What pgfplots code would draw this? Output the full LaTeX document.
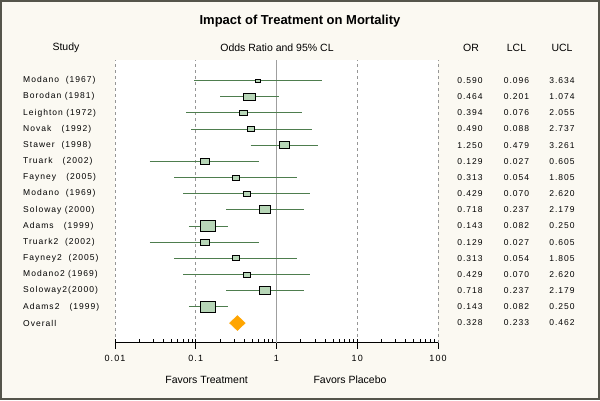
\documentclass[border=0pt]{standalone}
\usepackage{pgfplots}
\pgfplotsset{compat=1.18}
\usepackage{pgfplotstable}
\usepackage{fontspec}
\setmainfont{Liberation Sans}
\newfontfamily\lsfont[LetterSpace=12]{Liberation Sans}
\definecolor{bgcream}{RGB}{251,249,242}
\definecolor{framec}{RGB}{85,85,75}
\definecolor{ciline}{RGB}{78,125,78}
\definecolor{boxfill}{RGB}{183,214,183}
\definecolor{diam}{RGB}{255,165,0}
\definecolor{gridc}{RGB}{150,150,150}
\pgfdeclareplotmark{fbox}{%
  \pgfpathrectangle{\pgfpoint{-\bw pt}{-\bh pt}}{\pgfpoint{2*\bw pt}{2*\bh pt}}%
  \pgfusepathqfillstroke}
\pgfplotstableread[col sep=comma]{
y,name,or,lcl,ucl,w,h
15,Modano~~(1967),0.590,0.096,3.634,2.5,1.5
14,Borodan (1981),0.464,0.201,1.074,6,3.5
13,Leighton (1972),0.394,0.076,2.055,4,2.5
12,Novak~~~(1992),0.490,0.088,2.737,3.5,2.5
11,Stawer~~(1998),1.250,0.479,3.261,5,3.5
10,Truark~~~(2002),0.129,0.027,0.605,4.5,3
9,Fayney~~~(2005),0.313,0.054,1.805,3.5,2.5
8,Modano~~(1969),0.429,0.070,2.620,3.5,2.5
7,Soloway (2000),0.718,0.237,2.179,5.5,4
6,Adams~~~(1999),0.143,0.082,0.250,7.5,5.5
5,Truark2~~(2002),0.129,0.027,0.605,4.5,3
4,Fayney2~~(2005),0.313,0.054,1.805,3.5,2.5
3,Modano2 (1969),0.429,0.070,2.620,3.5,2.5
2,Soloway2(2000),0.718,0.237,2.179,5.5,4
1,Adams2~~~(1999),0.143,0.082,0.250,7.5,5.5
0,Overall,0.328,0.233,0.462,0,0
}\data
\newcommand\rowfont{\lsfont\fontsize{8.5}{10}\selectfont}
\begin{document}
\begin{tikzpicture}[x=1pt,y=1pt]
\useasboundingbox (0,0) rectangle (600,400);
\fill[bgcream] (0,0) rectangle (600,400);
\draw[framec, line width=2pt] (1,1) rectangle (599,399);
\fill[white] (115,57.3) rectangle (438,340);
\begin{axis}[at={(115pt,57.3pt)}, anchor=south west, scale only axis,
  width=323pt, height=282.7pt,
  xmode=log, xmin=0.01, xmax=100, ymin=-1.215, ymax=16.268,
  axis y line=none, axis x line*=bottom, ytick=\empty,
  xtick={0.01,0.1,1,10,100}, xticklabels={0.01,0.1,1,10,100},
  xticklabel style={font=\lsfont\fontsize{9}{10}\selectfont, yshift=-3pt},
  tick align=outside, major tick length=6pt, minor tick length=3.3pt,
  every minor tick/.append style={yshift=3.3pt},
  tick style={black, line width=0.8pt},
  x axis line style={black, line width=0.9pt},
  xmajorgrids, grid style={gridc, dash pattern=on 3pt off 3pt, line width=0.8pt},
  clip=false]
\addplot[gray!75, line width=0.9pt] coordinates {(1,-1.215) (1,16.268)};
\addplot[ciline, line width=0.9pt, mark=none, unbounded coords=jump] coordinates {
(0.096,15) (3.634,15) (1,nan)
(0.201,14) (1.074,14) (1,nan)
(0.076,13) (2.055,13) (1,nan)
(0.088,12) (2.737,12) (1,nan)
(0.479,11) (3.261,11) (1,nan)
(0.027,10) (0.605,10) (1,nan)
(0.054,9) (1.805,9) (1,nan)
(0.070,8) (2.620,8) (1,nan)
(0.237,7) (2.179,7) (1,nan)
(0.082,6) (0.250,6) (1,nan)
(0.027,5) (0.605,5) (1,nan)
(0.054,4) (1.805,4) (1,nan)
(0.070,3) (2.620,3) (1,nan)
(0.237,2) (2.179,2) (1,nan)
(0.082,1) (0.250,1)
};
\addplot[scatter, only marks, mark=fbox,
  scatter/use mapped color={draw=black, fill=boxfill},
  mark options={line width=1pt},
  visualization depends on={\thisrow{w} \as \bw},
  visualization depends on={\thisrow{h} \as \bh},
  skip coords between index={15}{16}] table[x=or, y=y] {\data};
\addplot[only marks, mark=diamond*, mark size=7.5pt,
  mark options={fill=diam, draw=diam, xscale=1.4}] coordinates {(0.328,0)};
\addplot[draw=none, mark=none, nodes near coords, point meta=explicit symbolic,
  nodes near coords style={anchor=west, font=\rowfont, text=black, inner sep=0pt}]
  table[x expr=0.000726, y=y, meta=name] {\data};
\addplot[draw=none, mark=none, nodes near coords, point meta=explicit symbolic,
  nodes near coords style={anchor=center, font=\rowfont, text=black, inner sep=0pt}]
  table[x expr=248.9, y=y, meta=or] {\data};
\addplot[draw=none, mark=none, nodes near coords, point meta=explicit symbolic,
  nodes near coords style={anchor=center, font=\rowfont, text=black, inner sep=0pt}]
  table[x expr=937.6, y=y, meta=lcl] {\data};
\addplot[draw=none, mark=none, nodes near coords, point meta=explicit symbolic,
  nodes near coords style={anchor=center, font=\rowfont, text=black, inner sep=0pt}]
  table[x expr=3432, y=y, meta=ucl] {\data};
\end{axis}
\node[font=\bfseries\fontsize{13}{15}\selectfont] at (300,379) {Impact of Treatment on Mortality};
\node[font=\fontsize{10.5}{12}\selectfont] at (66,352.5) {Study};
\node[font=\fontsize{10.5}{12}\selectfont] at (277,352.5) {Odds Ratio and 95\% CL};
\node[font=\fontsize{10.5}{12}\selectfont] at (471,352.5) {OR};
\node[font=\fontsize{10.5}{12}\selectfont] at (516.5,352.5) {LCL};
\node[font=\fontsize{10.5}{12}\selectfont] at (562,352.5) {UCL};
\node[font=\fontsize{10.5}{12}\selectfont] at (206.6,20) {Favors Treatment};
\node[font=\fontsize{10.5}{12}\selectfont] at (350,20) {Favors Placebo};
\end{tikzpicture}
\end{document}
